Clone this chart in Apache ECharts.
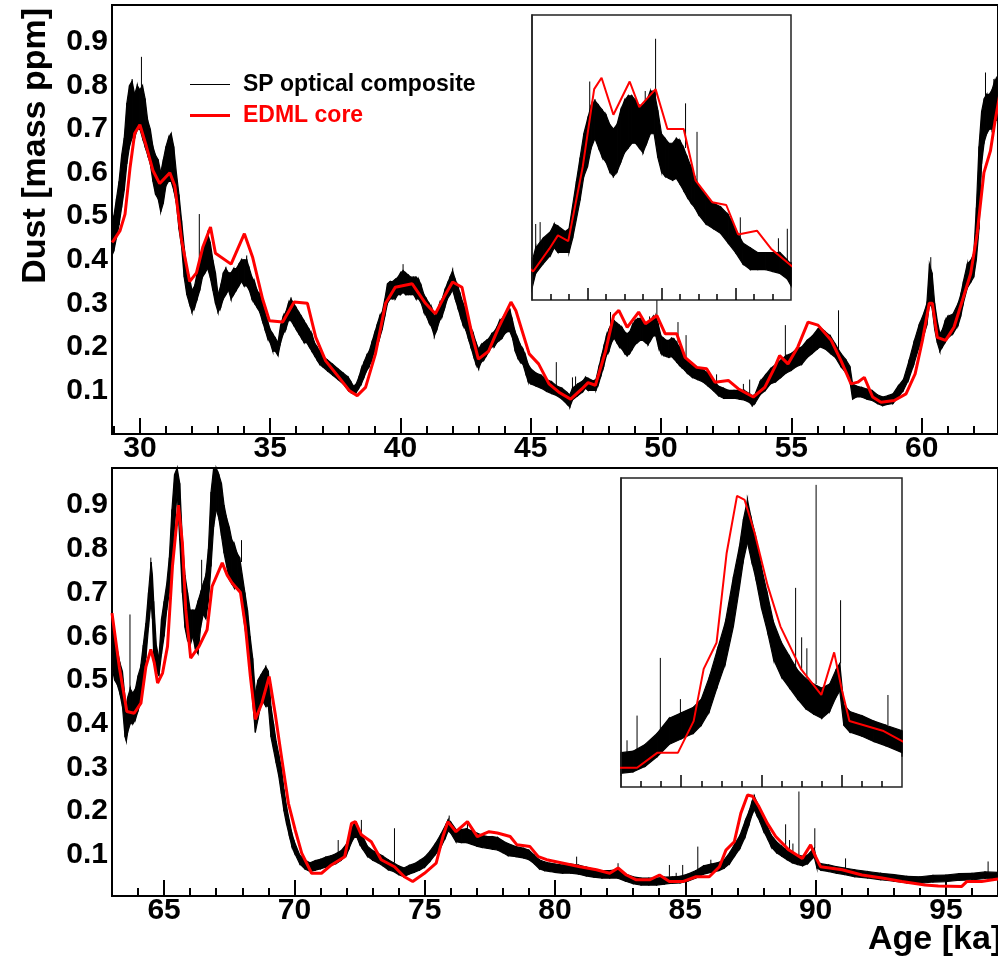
<!DOCTYPE html>
<html>
<head>
<meta charset="utf-8">
<script src="https://cdn.jsdelivr.net/npm/echarts@6/dist/echarts.min.js"></script>
<style>
html,body{margin:0;padding:0;background:#fff;overflow:hidden}
#c{width:998px;height:957px}
</style>
</head>
<body>
<div id="c"></div>
<script>
const FONT = '"Liberation Sans", Arial, Helvetica, sans-serif';

// ---- tick labels ----
const ageTicksTop = [30, 35, 40, 45, 50, 55, 60];
const ageTicksBottom = [65, 70, 75, 80, 85, 90, 95];
const dustTicks = [0.1, 0.2, 0.3, 0.4, 0.5, 0.6, 0.7, 0.8, 0.9];
const insetTopMajor = [48, 50, 52];
const insetBottomMajor = [86, 88, 90];

// ---- SP optical composite: [age ka, lower edge, upper edge] of the noisy trace ----
const spTop = [
[28.93,0.41,0.49],[29.0,0.42,0.50],[29.1,0.45,0.54],[29.2,0.48,0.58],[29.3,0.52,0.64],[29.4,0.56,0.68],[29.5,0.62,0.76],[29.6,0.66,0.80],[29.7,0.68,0.81],[29.8,0.68,0.78],[29.9,0.70,0.80],[30.0,0.70,0.79],[30.1,0.68,0.80],[30.2,0.66,0.77],[30.3,0.64,0.72],[30.4,0.62,0.70],[30.5,0.58,0.66],[30.6,0.55,0.64],[30.7,0.54,0.63],[30.8,0.51,0.60],[30.9,0.53,0.63],[31.0,0.57,0.66],[31.1,0.58,0.68],[31.2,0.58,0.69],[31.3,0.56,0.66],[31.4,0.53,0.60],[31.5,0.47,0.55],[31.6,0.43,0.49],[31.7,0.36,0.43],[31.8,0.32,0.38],[31.9,0.30,0.36],[32.0,0.28,0.33],[32.1,0.29,0.34],[32.2,0.31,0.37],[32.3,0.33,0.39],[32.4,0.36,0.42],[32.5,0.37,0.44],[32.6,0.38,0.46],[32.7,0.36,0.44],[32.8,0.33,0.40],[32.9,0.30,0.37],[33.0,0.28,0.32],[33.1,0.29,0.34],[33.2,0.31,0.37],[33.3,0.32,0.38],[33.4,0.33,0.37],[33.5,0.31,0.37],[33.6,0.32,0.38],[33.7,0.33,0.38],[33.8,0.34,0.39],[33.9,0.35,0.40],[34.0,0.34,0.40],[34.1,0.34,0.40],[34.2,0.33,0.38],[34.3,0.31,0.36],[34.4,0.30,0.35],[34.5,0.29,0.33],[34.6,0.28,0.32],[34.7,0.26,0.30],[34.8,0.24,0.28],[34.9,0.22,0.26],[35.0,0.21,0.24],[35.1,0.19,0.23],[35.2,0.19,0.22],[35.3,0.18,0.21],[35.4,0.21,0.25],[35.5,0.23,0.27],[35.6,0.24,0.28],[35.7,0.26,0.30],[35.8,0.26,0.31],[35.9,0.25,0.30],[36.0,0.24,0.29],[36.1,0.23,0.28],[36.2,0.22,0.27],[36.3,0.21,0.26],[36.4,0.21,0.25],[36.5,0.20,0.24],[36.6,0.19,0.23],[36.7,0.18,0.21],[36.8,0.17,0.20],[36.9,0.16,0.19],[37.0,0.155,0.18],[37.2,0.145,0.17],[37.4,0.135,0.16],[37.6,0.125,0.15],[37.8,0.115,0.14],[38.0,0.10,0.13],[38.1,0.095,0.12],[38.2,0.092,0.11],[38.3,0.095,0.115],[38.4,0.105,0.13],[38.5,0.115,0.15],[38.6,0.13,0.165],[38.7,0.145,0.18],[38.8,0.155,0.19],[38.9,0.17,0.21],[39.0,0.19,0.23],[39.1,0.20,0.25],[39.2,0.22,0.27],[39.3,0.24,0.28],[39.4,0.27,0.31],[39.5,0.30,0.345],[39.6,0.31,0.35],[39.7,0.31,0.35],[39.8,0.31,0.355],[39.9,0.32,0.36],[40.0,0.32,0.37],[40.1,0.325,0.375],[40.2,0.32,0.37],[40.3,0.32,0.365],[40.4,0.32,0.36],[40.5,0.32,0.36],[40.6,0.31,0.36],[40.7,0.31,0.355],[40.8,0.30,0.34],[40.9,0.28,0.32],[41.0,0.27,0.31],[41.1,0.255,0.30],[41.2,0.245,0.29],[41.3,0.225,0.27],[41.4,0.24,0.28],[41.5,0.26,0.30],[41.6,0.27,0.31],[41.7,0.29,0.33],[41.8,0.31,0.345],[41.9,0.32,0.36],[42.0,0.33,0.375],[42.1,0.31,0.355],[42.2,0.29,0.34],[42.3,0.27,0.32],[42.4,0.25,0.30],[42.5,0.24,0.285],[42.6,0.22,0.26],[42.7,0.20,0.245],[42.8,0.18,0.23],[42.9,0.16,0.21],[43.0,0.15,0.195],[43.1,0.165,0.205],[43.2,0.17,0.21],[43.3,0.18,0.215],[43.4,0.19,0.22],[43.5,0.20,0.23],[43.6,0.20,0.235],[43.7,0.21,0.245],[43.8,0.215,0.26],[43.9,0.22,0.265],[44.0,0.23,0.275],[44.1,0.235,0.28],[44.2,0.235,0.285],[44.3,0.22,0.26],[44.4,0.19,0.235],[44.5,0.175,0.22],[44.6,0.165,0.205],[44.7,0.16,0.195],[44.8,0.14,0.18],[44.9,0.12,0.16],[45.0,0.115,0.15],[45.2,0.11,0.14],[45.4,0.105,0.135],[45.6,0.098,0.125],[45.8,0.093,0.12],[46.0,0.088,0.11],[46.2,0.08,0.105],[46.4,0.068,0.095],[46.5,0.062,0.09],[46.6,0.078,0.105],[46.8,0.088,0.115],[47.0,0.097,0.122],[47.1,0.105,0.13],[47.2,0.10,0.128],[47.4,0.10,0.122],[47.5,0.10,0.125],[47.6,0.115,0.15],[47.7,0.135,0.175],[47.8,0.155,0.20],[47.9,0.18,0.225],[48.0,0.19,0.24],[48.1,0.21,0.255],[48.2,0.22,0.26],[48.3,0.21,0.255],[48.4,0.20,0.25],[48.5,0.195,0.245],[48.6,0.185,0.235],[48.7,0.18,0.23],[48.8,0.185,0.235],[48.9,0.195,0.25],[49.0,0.205,0.26],[49.1,0.21,0.265],[49.2,0.215,0.265],[49.3,0.215,0.26],[49.4,0.21,0.255],[49.5,0.205,0.255],[49.6,0.215,0.26],[49.7,0.225,0.27],[49.8,0.225,0.27],[49.9,0.20,0.25],[50.0,0.185,0.225],[50.1,0.18,0.22],[50.2,0.178,0.215],[50.3,0.176,0.215],[50.4,0.178,0.22],[50.5,0.172,0.218],[50.6,0.165,0.21],[50.7,0.158,0.20],[50.8,0.152,0.19],[50.9,0.147,0.18],[51.0,0.14,0.17],[51.2,0.13,0.16],[51.4,0.125,0.152],[51.6,0.12,0.148],[51.8,0.11,0.14],[52.0,0.10,0.125],[52.2,0.088,0.11],[52.4,0.082,0.105],[52.6,0.082,0.10],[52.8,0.082,0.10],[53.0,0.08,0.10],[53.2,0.078,0.10],[53.4,0.072,0.092],[53.5,0.065,0.088],[53.6,0.07,0.09],[53.8,0.09,0.12],[54.0,0.10,0.135],[54.2,0.115,0.15],[54.4,0.12,0.16],[54.6,0.13,0.17],[54.8,0.14,0.18],[55.0,0.146,0.185],[55.2,0.155,0.195],[55.4,0.16,0.20],[55.6,0.175,0.215],[55.8,0.185,0.225],[56.0,0.195,0.24],[56.1,0.20,0.245],[56.3,0.195,0.235],[56.5,0.185,0.225],[56.7,0.175,0.205],[56.9,0.155,0.185],[57.1,0.14,0.17],[57.25,0.12,0.155],[57.35,0.08,0.115],[57.5,0.085,0.11],[57.7,0.085,0.107],[57.9,0.08,0.103],[58.1,0.077,0.10],[58.3,0.07,0.09],[58.5,0.065,0.085],[58.7,0.068,0.088],[58.9,0.07,0.092],[59.1,0.085,0.11],[59.3,0.10,0.125],[59.5,0.125,0.165],[59.7,0.16,0.21],[59.9,0.20,0.25],[60.1,0.23,0.28],[60.2,0.25,0.30],[60.3,0.30,0.39],[60.4,0.29,0.37],[60.5,0.24,0.30],[60.6,0.21,0.26],[60.7,0.19,0.23],[60.8,0.20,0.24],[60.9,0.21,0.26],[61.0,0.22,0.27],[61.2,0.23,0.275],[61.4,0.25,0.30],[61.5,0.27,0.32],[61.6,0.30,0.35],[61.75,0.335,0.39],[61.9,0.35,0.40],[62.0,0.36,0.415],[62.1,0.40,0.52],[62.2,0.47,0.66],[62.3,0.62,0.74],[62.4,0.67,0.77],[62.5,0.69,0.78],[62.6,0.70,0.78],[62.7,0.70,0.79],[62.8,0.72,0.81],[62.9,0.72,0.82],[63.0,0.73,0.82]
];
const spBottom = [
[63.0,0.53,0.62],[63.1,0.50,0.60],[63.2,0.49,0.57],[63.3,0.47,0.54],[63.4,0.44,0.52],[63.5,0.37,0.46],[63.55,0.36,0.44],[63.6,0.38,0.46],[63.7,0.40,0.48],[63.8,0.40,0.47],[63.9,0.41,0.48],[64.0,0.43,0.51],[64.1,0.45,0.53],[64.2,0.50,0.58],[64.3,0.55,0.63],[64.4,0.62,0.70],[64.5,0.68,0.77],[64.55,0.64,0.74],[64.6,0.56,0.68],[64.7,0.52,0.58],[64.8,0.51,0.55],[64.9,0.56,0.64],[65.0,0.60,0.68],[65.1,0.66,0.72],[65.2,0.70,0.78],[65.3,0.77,0.89],[65.4,0.85,0.97],[65.5,0.93,1.00],[65.6,0.82,0.95],[65.7,0.70,0.82],[65.8,0.62,0.74],[65.9,0.59,0.70],[66.0,0.58,0.66],[66.1,0.60,0.66],[66.2,0.57,0.66],[66.3,0.56,0.68],[66.4,0.62,0.70],[66.5,0.65,0.72],[66.6,0.64,0.74],[66.7,0.68,0.80],[66.8,0.76,0.93],[66.9,0.85,1.00],[67.0,0.89,1.00],[67.1,0.87,0.97],[67.2,0.83,0.95],[67.3,0.79,0.90],[67.4,0.76,0.87],[67.5,0.73,0.85],[67.6,0.72,0.82],[67.7,0.71,0.81],[67.8,0.71,0.79],[67.9,0.71,0.78],[68.0,0.67,0.74],[68.1,0.62,0.70],[68.2,0.58,0.66],[68.3,0.52,0.60],[68.4,0.45,0.55],[68.5,0.38,0.47],[68.6,0.41,0.50],[68.7,0.44,0.51],[68.8,0.45,0.52],[68.9,0.44,0.53],[69.0,0.44,0.52],[69.1,0.37,0.44],[69.2,0.34,0.40],[69.3,0.31,0.36],[69.4,0.28,0.33],[69.5,0.24,0.30],[69.6,0.20,0.25],[69.7,0.17,0.21],[69.8,0.145,0.18],[69.9,0.12,0.15],[70.0,0.105,0.13],[70.2,0.08,0.10],[70.4,0.068,0.088],[70.6,0.062,0.082],[70.8,0.065,0.087],[71.0,0.068,0.09],[71.2,0.072,0.095],[71.4,0.076,0.098],[71.6,0.08,0.103],[71.8,0.088,0.11],[72.0,0.10,0.125],[72.1,0.115,0.14],[72.2,0.13,0.16],[72.3,0.14,0.172],[72.4,0.14,0.17],[72.5,0.125,0.155],[72.6,0.115,0.145],[72.8,0.097,0.12],[73.0,0.088,0.11],[73.2,0.082,0.104],[73.4,0.075,0.097],[73.6,0.066,0.089],[73.8,0.062,0.082],[74.0,0.055,0.075],[74.2,0.05,0.07],[74.4,0.056,0.076],[74.6,0.06,0.08],[74.8,0.065,0.087],[75.0,0.072,0.095],[75.2,0.085,0.108],[75.4,0.10,0.125],[75.6,0.115,0.145],[75.8,0.14,0.168],[75.9,0.155,0.18],[76.0,0.15,0.175],[76.2,0.13,0.158],[76.4,0.128,0.158],[76.6,0.128,0.16],[76.8,0.124,0.155],[77.0,0.12,0.15],[77.2,0.117,0.145],[77.4,0.115,0.142],[77.6,0.113,0.142],[77.8,0.111,0.14],[78.0,0.105,0.132],[78.2,0.098,0.126],[78.5,0.096,0.119],[78.8,0.093,0.115],[79.0,0.089,0.111],[79.2,0.08,0.10],[79.4,0.068,0.089],[79.6,0.064,0.084],[79.8,0.062,0.081],[80.0,0.06,0.079],[80.3,0.058,0.077],[80.6,0.058,0.079],[80.9,0.056,0.077],[81.2,0.052,0.072],[81.5,0.049,0.067],[81.8,0.047,0.064],[82.1,0.047,0.064],[82.4,0.047,0.066],[82.7,0.04,0.056],[83.0,0.034,0.05],[83.3,0.031,0.047],[83.6,0.031,0.047],[83.9,0.031,0.047],[84.2,0.033,0.049],[84.5,0.035,0.05],[84.8,0.036,0.051],[85.1,0.04,0.056],[85.4,0.047,0.064],[85.7,0.056,0.075],[86.0,0.06,0.079],[86.3,0.064,0.083],[86.5,0.07,0.089],[86.7,0.08,0.105],[86.9,0.098,0.125],[87.1,0.115,0.145],[87.3,0.142,0.178],[87.45,0.17,0.20],[87.55,0.19,0.22],[87.65,0.203,0.234],[87.75,0.19,0.22],[87.85,0.178,0.208],[88.0,0.155,0.185],[88.15,0.138,0.165],[88.3,0.118,0.145],[88.5,0.105,0.13],[88.7,0.097,0.12],[88.9,0.089,0.11],[89.1,0.082,0.104],[89.3,0.078,0.10],[89.5,0.075,0.097],[89.7,0.08,0.10],[89.85,0.09,0.11],[89.95,0.095,0.115],[90.05,0.07,0.085],[90.2,0.065,0.08],[90.5,0.062,0.077],[90.8,0.058,0.073],[91.1,0.055,0.07],[91.5,0.05,0.066],[92.0,0.047,0.062],[92.5,0.043,0.058],[93.0,0.04,0.055],[93.5,0.036,0.051],[94.0,0.035,0.05],[94.5,0.038,0.053],[95.0,0.039,0.054],[95.5,0.042,0.057],[96.0,0.043,0.058],[96.5,0.046,0.061],[97.0,0.045,0.06]
];
// isolated spikes of the optical trace: [age, base, top]
const spSpikesTop = [
[29.7,0.78,0.815],[30.06,0.78,0.866],[32.28,0.38,0.505],[34.1,0.39,0.41],[40.1,0.37,0.39],[45.98,0.11,0.165],[46.6,0.095,0.13],[46.72,0.10,0.132],[48.06,0.24,0.28],[49.56,0.25,0.27],[49.84,0.26,0.325],[50.65,0.21,0.257],[50.96,0.17,0.227],[52.13,0.105,0.137],[53.16,0.095,0.115],[53.4,0.09,0.125],[54.77,0.175,0.25],[56.81,0.19,0.284],[60.35,0.38,0.406],[62.45,0.77,0.83],[62.77,0.80,0.815]
];
const spSpikesBottom = [
[63.69,0.47,0.65],[64.49,0.76,0.78],[66.44,0.70,0.775],[67.97,0.77,0.82],[71.68,0.10,0.134],[72.57,0.145,0.18],[73.84,0.082,0.161],[75.94,0.18,0.19],[76.64,0.158,0.176],[80.83,0.078,0.096],[82.42,0.066,0.081],[84.39,0.05,0.077],[84.65,0.05,0.059],[84.9,0.051,0.077],[85.48,0.064,0.119],[85.98,0.078,0.089],[88.85,0.11,0.17],[89.0,0.11,0.134],[89.13,0.104,0.126],[89.36,0.10,0.245],[89.97,0.115,0.161],[91.15,0.07,0.092],[96.62,0.061,0.085]
];

// ---- EDML core: [age ka, dust] ----
const edmlTop = [
[28.93,0.44],[29.0,0.445],[29.24,0.467],[29.43,0.505],[29.62,0.61],[29.8,0.69],[30.0,0.71],[30.25,0.66],[30.5,0.605],[30.76,0.575],[31.15,0.60],[31.34,0.57],[31.6,0.445],[31.91,0.35],[32.17,0.37],[32.42,0.43],[32.71,0.475],[32.9,0.415],[33.5,0.39],[34.01,0.46],[34.33,0.405],[34.71,0.31],[34.97,0.26],[35.48,0.257],[35.92,0.303],[36.43,0.30],[36.75,0.222],[37.13,0.168],[37.64,0.13],[38.03,0.10],[38.34,0.088],[38.66,0.107],[39.04,0.184],[39.43,0.30],[39.8,0.337],[40.45,0.345],[40.96,0.30],[41.34,0.276],[41.72,0.32],[42.0,0.349],[42.36,0.337],[42.74,0.23],[42.99,0.172],[43.38,0.19],[43.77,0.245],[44.24,0.303],[44.43,0.283],[44.94,0.184],[45.3,0.161],[45.7,0.115],[46.08,0.096],[46.53,0.08],[46.97,0.104],[47.2,0.118],[47.48,0.112],[47.87,0.19],[48.18,0.272],[48.38,0.284],[48.7,0.245],[49.14,0.28],[49.4,0.253],[49.84,0.272],[50.16,0.23],[50.6,0.23],[50.92,0.176],[51.37,0.153],[51.75,0.15],[52.07,0.119],[52.58,0.123],[52.96,0.104],[53.54,0.085],[53.98,0.107],[54.36,0.153],[54.55,0.18],[54.87,0.161],[55.25,0.2],[55.64,0.257],[56.02,0.25],[56.53,0.215],[56.9,0.169],[57.29,0.115],[57.55,0.119],[57.8,0.13],[58.12,0.085],[58.44,0.073],[58.95,0.077],[59.4,0.092],[59.75,0.138],[60.03,0.215],[60.29,0.30],[60.41,0.30],[60.6,0.222],[60.92,0.215],[61.24,0.245],[61.56,0.306],[61.88,0.368],[62.13,0.46],[62.39,0.6],[62.64,0.65],[62.82,0.72],[63.0,0.78]
];
const edmlBottom = [
[63.0,0.653],[63.28,0.53],[63.57,0.428],[63.85,0.424],[64.11,0.447],[64.3,0.53],[64.49,0.57],[64.62,0.54],[64.75,0.493],[64.94,0.516],[65.13,0.577],[65.32,0.76],[65.55,0.90],[65.7,0.814],[65.83,0.661],[66.02,0.55],[66.34,0.577],[66.65,0.615],[66.84,0.714],[67.23,0.768],[67.42,0.74],[67.61,0.722],[67.93,0.70],[68.12,0.623],[68.31,0.508],[68.5,0.41],[68.75,0.447],[69.03,0.508],[69.26,0.424],[69.52,0.318],[69.77,0.218],[70.03,0.157],[70.28,0.104],[70.66,0.058],[71.04,0.058],[71.42,0.077],[71.93,0.096],[72.19,0.172],[72.34,0.176],[72.57,0.146],[72.95,0.13],[73.33,0.089],[73.84,0.073],[74.22,0.05],[74.54,0.039],[74.99,0.058],[75.44,0.081],[75.7,0.142],[75.89,0.176],[76.2,0.153],[76.64,0.176],[77.02,0.142],[77.47,0.153],[77.79,0.15],[78.28,0.142],[78.54,0.123],[79.04,0.119],[79.36,0.096],[79.68,0.089],[80.32,0.081],[80.96,0.073],[81.59,0.066],[82.1,0.058],[82.42,0.07],[82.74,0.054],[83.12,0.043],[83.63,0.043],[84.01,0.054],[84.39,0.039],[84.9,0.039],[85.41,0.05],[85.92,0.05],[86.31,0.073],[86.56,0.111],[86.88,0.13],[87.13,0.195],[87.39,0.237],[87.58,0.234],[87.83,0.21],[88.15,0.172],[88.47,0.142],[88.98,0.111],[89.49,0.092],[89.81,0.123],[90.0,0.096],[90.19,0.073],[91.02,0.066],[91.78,0.054],[92.55,0.047],[93.31,0.039],[94.2,0.031],[94.71,0.029],[95.61,0.028],[95.8,0.039],[96.37,0.039],[96.8,0.043],[97.0,0.045]
];

// ---- minor tick positions ----
function range(a, b, step) { const out = []; for (let v = a; v <= b + 1e-9; v += step) out.push(Math.round(v * 100) / 100); return out; }
const minorTop = range(29, 62, 1);
const minorBottom = range(63, 96, 1);
const minorInsetTop = range(47, 53, 0.5);
const minorInsetBottom = range(85, 91, 0.5);

const NAME_SP = 'SP optical composite';
const NAME_EDML = 'EDML core';
const RED = '#ff0000';

function bandRender(rows) {
  return function (params, api) {
    const i = params.dataIndex;
    if (i >= rows.length - 1) return null;
    const a = rows[i], b = rows[i + 1];
    const cs = params.coordSys;
    const p0 = api.coord([a[0], a[2]]), p1 = api.coord([b[0], b[2]]);
    const p2 = api.coord([b[0], b[1]]), p3 = api.coord([a[0], a[1]]);
    if (p1[0] < cs.x || p0[0] > cs.x + cs.width) return null;
    const pts = echarts.graphic.clipPointsByRect([p0, p1, p2, p3], cs);
    return { type: 'polygon', shape: { points: pts }, style: { fill: '#000', stroke: '#000', lineWidth: 1.2 } };
  };
}
function spikeRender(params, api) {
  const cs = params.coordSys;
  const x = api.value(0);
  const p0 = api.coord([x, api.value(1)]), p1 = api.coord([x, api.value(2)]);
  if (p0[0] < cs.x || p0[0] > cs.x + cs.width) return null;
  const pts = echarts.graphic.clipPointsByRect([p0, p1], cs);
  return { type: 'line', shape: { x1: pts[0][0], y1: pts[0][1], x2: pts[1][0], y2: pts[1][1] }, style: { stroke: '#000', lineWidth: 1 } };
}

function bandSeries(rows, xi, yi, z) {
  return { type: 'custom', name: NAME_SP, xAxisIndex: xi, yAxisIndex: yi, z: z, silent: true,
    itemStyle: { color: '#000' }, renderItem: bandRender(rows), data: rows,
    encode: { x: 0, y: [1, 2] } };
}
function spikeSeries(rows, xi, yi, z) {
  return { type: 'custom', name: NAME_SP, xAxisIndex: xi, yAxisIndex: yi, z: z, silent: true,
    itemStyle: { color: '#000' }, renderItem: spikeRender, data: rows,
    encode: { x: 0, y: [1, 2] } };
}
function redSeries(rows, xi, yi, z, w) {
  return { type: 'line', name: NAME_EDML, xAxisIndex: xi, yAxisIndex: yi, z: z, silent: true,
    data: rows, showSymbol: false, symbol: 'none', clip: true,
    itemStyle: { color: RED }, lineStyle: { color: RED, width: w } };
}

const labelStyle = { fontFamily: FONT, fontWeight: 'bold', fontSize: 30, color: '#000' };

function mainX(grid, min, max, majors) {
  return { type: 'value', gridIndex: grid, min: min, max: max, position: 'bottom',
    axisLine: { show: true, onZero: false, lineStyle: { color: '#000', width: 2 } },
    axisTick: { show: true, inside: true, length: 16, lineStyle: { color: '#000', width: 2 }, customValues: majors },
    axisLabel: Object.assign({ show: true, margin: 0, customValues: majors }, labelStyle),
    splitLine: { show: false } };
}
function minorX(grid, min, max, minors, len, width, z) {
  return { type: 'value', gridIndex: grid, min: min, max: max, position: 'bottom', z: z,
    axisLine: { show: false, onZero: false },
    axisTick: { show: true, inside: true, length: len, lineStyle: { color: '#000', width: width }, customValues: minors },
    axisLabel: { show: false }, splitLine: { show: false } };
}
function mainY(grid, min, max) {
  return { type: 'value', gridIndex: grid, min: min, max: max,
    axisLine: { show: true, onZero: false, lineStyle: { color: '#000', width: 2 } },
    axisTick: { show: false },
    axisLabel: Object.assign({ show: true, margin: 4, customValues: dustTicks, formatter: v => v.toFixed(1) }, labelStyle),
    splitLine: { show: false } };
}
function insetY(grid, min, max) {
  return { type: 'value', gridIndex: grid, min: min, max: max, z: 6,
    axisLine: { show: true, onZero: false, lineStyle: { color: '#222', width: 1.5 } },
    axisTick: { show: false }, axisLabel: { show: false }, splitLine: { show: false } };
}

const chart = echarts.init(document.getElementById('c'), null, { renderer: 'canvas' });
chart.setOption({
  animation: false,
  backgroundColor: '#fff',
  grid: [
    { left: 112, top: 5, width: 890, height: 429, show: true, borderColor: '#000', borderWidth: 2, backgroundColor: 'transparent' },
    { left: 112, top: 468, width: 890, height: 428, show: true, borderColor: '#000', borderWidth: 2, backgroundColor: 'transparent' },
    { left: 532, top: 15, width: 259, height: 285, show: true, borderColor: '#222', borderWidth: 1.5, backgroundColor: '#fff', z: 5 },
    { left: 621, top: 478, width: 281, height: 309, show: true, borderColor: '#222', borderWidth: 1.5, backgroundColor: '#fff', z: 5 }
  ],
  xAxis: [
    mainX(0, 28.93, 62.93, ageTicksTop),
    minorX(0, 28.93, 62.93, minorTop, 8, 2, 0),
    mainX(1, 63, 97, ageTicksBottom),
    minorX(1, 63, 97, minorBottom, 8, 2, 0),
    minorX(2, 46.5, 53.5, minorInsetTop, 6, 1.5, 6),
    minorX(2, 46.5, 53.5, insetTopMajor, 12, 1.5, 6),
    minorX(3, 84.5, 91.5, minorInsetBottom, 6, 1.5, 6),
    minorX(3, 84.5, 91.5, insetBottomMajor, 12, 1.5, 6)
  ],
  yAxis: [
    mainY(0, 0, 0.985),
    mainY(1, 0.006, 0.985),
    insetY(2, 0.05, 0.35),
    insetY(3, 0.025, 0.25)
  ],
  legend: {
    orient: 'vertical', left: 185, top: 68, itemWidth: 40, itemHeight: 3, itemGap: 8,
    selectedMode: false,
    textStyle: { fontFamily: FONT, fontWeight: 'bold', fontSize: 23, padding: [0, 0, 0, 8] },
    data: [
      { name: NAME_SP, icon: 'path://M0,0M0,1L40,1L40,2L0,2ZM0,3', itemStyle: { color: '#000' }, textStyle: { color: '#000' } },
      { name: NAME_EDML, icon: 'rect', itemStyle: { color: RED }, textStyle: { color: RED } }
    ]
  },
  graphic: [
    { type: 'text', x: 35.5, y: 8, rotation: Math.PI / 2, silent: true,
      style: { text: 'Dust [mass ppm]', font: 'bold 34px "Liberation Sans"', fill: '#000',
        align: 'right', verticalAlign: 'middle', textAlign: 'right', textVerticalAlign: 'middle' } },
    { type: 'text', x: 868, y: 939.5, silent: true,
      style: { text: 'Age [ka]', font: 'bold 34px "Liberation Sans"', fill: '#000',
        align: 'left', verticalAlign: 'middle', textAlign: 'left', textVerticalAlign: 'middle' } }
  ],
  series: [
    bandSeries(spTop, 0, 0, 2),
    spikeSeries(spSpikesTop, 0, 0, 2),
    redSeries(edmlTop, 0, 0, 3, 3),
    bandSeries(spBottom, 2, 1, 2),
    spikeSeries(spSpikesBottom, 2, 1, 2),
    redSeries(edmlBottom, 2, 1, 3, 3),
    bandSeries(spTop, 4, 2, 6),
    spikeSeries(spSpikesTop, 4, 2, 6),
    redSeries(edmlTop, 4, 2, 7, 2),
    bandSeries(spBottom, 6, 3, 6),
    spikeSeries(spSpikesBottom, 6, 3, 6),
    redSeries(edmlBottom, 6, 3, 7, 2)
  ]
});
</script>
</body>
</html>
